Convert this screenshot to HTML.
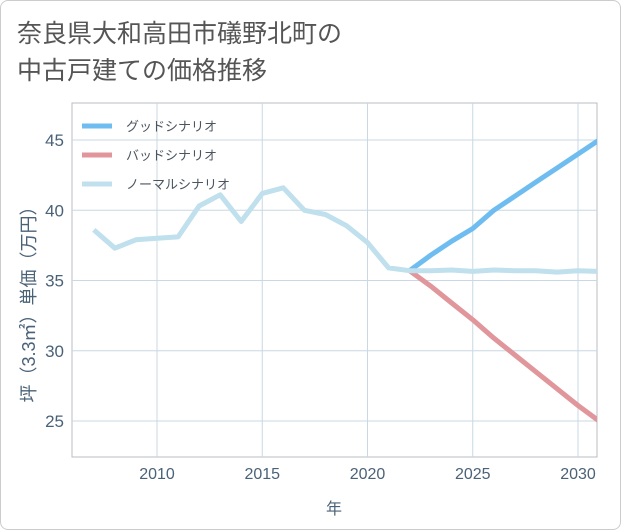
<!DOCTYPE html>
<html><head><meta charset="utf-8"><style>
body{margin:0;background:#fff;}
#wrap{position:relative;width:619px;height:528px;border:1px solid #ccc;border-radius:8px;background:#fff;font-family:"Liberation Sans","Noto Sans CJK JP",sans-serif;overflow:hidden}
</style></head><body>
<div id="wrap">
<svg width="621" height="530" id="svg" style="position:absolute;left:-1px;top:-1px">
<text x="17" y="42" font-size="25" fill="#555" font-family="Liberation Sans, Noto Sans CJK JP, sans-serif">奈良県大和高田市礒野北町の</text>
<text x="17" y="79" font-size="25" fill="#555" font-family="Liberation Sans, Noto Sans CJK JP, sans-serif">中古戸建ての価格推移</text>
<text transform="translate(35,300) rotate(-90)" text-anchor="middle" font-size="18" fill="#4a6278" font-family="Liberation Sans, Noto Sans CJK JP, sans-serif">坪（3.3㎡）単価（万円）</text>
<text x="334" y="514" text-anchor="middle" font-size="16" fill="#4a6278" font-family="Liberation Sans, Noto Sans CJK JP, sans-serif">年</text>
<g id="grid"></g><g id="lines"></g><g id="legend"></g>
</svg>
</div>
<script>
const years=[2007,2008,2009,2010,2011,2012,2013,2014,2015,2016,2017,2018,2019,2020,2021,2022,2023,2024,2025,2026,2027,2028,2029,2030,2031];
const normal=[38.6,37.3,37.9,38.0,38.1,40.3,41.1,39.2,41.2,41.6,40.0,39.7,38.9,37.7,35.9,35.7,35.7,35.75,35.65,35.75,35.7,35.7,35.6,35.7,35.65];
const goodYears=[2022,2023,2024,2025,2026,2027,2028,2029,2030,2031];
const good=[35.7,36.8,37.8,38.7,40.0,41.0,42.0,43.0,44.0,45.0];
const bad=[35.7,34.6,33.4,32.2,30.9,29.7,28.5,27.3,26.1,25.0];
const xTicks=[2010,2015,2020,2025,2030];
const yTicks=[25,30,35,40,45];
const L=72,R=597,T=103,B=457;
const xs=y=>157+(y-2010)*21.05;
const ys=v=>421+(25-v)*14.05;
const NS="http://www.w3.org/2000/svg";
function mk(t,a,p){const e=document.createElementNS(NS,t);for(const k in a)e.setAttribute(k,a[k]);p.appendChild(e);return e;}
const grid=document.getElementById('grid');
const frame=mk('rect',{x:L,y:T,width:R-L,height:B-T,fill:'none',stroke:'#b8bec4','stroke-width':1},grid);


xTicks.forEach(t=>{
 const l=mk('line',{x1:xs(t),x2:xs(t),y1:T,y2:B,stroke:'#c8d8e4'},grid);
 
 
 const tx=mk('text',{x:xs(t),y:B+22,'text-anchor':'middle','font-size':16,fill:'#4a6278'},grid);
 tx.textContent=t;
 
 
});
yTicks.forEach(t=>{
 const l=mk('line',{x1:L,x2:R,y1:ys(t),y2:ys(t),stroke:'#c8d8e4'},grid);
 
 
 const tx=mk('text',{x:L-8,y:ys(t)+6,'text-anchor':'end','font-size':17,fill:'#4a6278'},grid);
 tx.textContent=t;
 
 
});
const lines=document.getElementById('lines');
function path(xa,va,color,name){
 const d=va.map((v,i)=>(i?'L':'M')+xs(xa[i]).toFixed(1)+','+ys(v).toFixed(1)).join('');
 const p=mk('path',{d:d,fill:'none',stroke:color,'stroke-width':5,'stroke-linejoin':'round'},lines);
 
 
}
const clip=mk('clipPath',{id:'c'},document.getElementById('svg'));
mk('rect',{x:L,y:T,width:R-L,height:B-T},clip);
lines.setAttribute('clip-path','url(#c)');
path(goodYears,bad,'#e0969b','bad-scenario-line');
path(goodYears,good,'#6fbdf0','good-scenario-line');
path(years,normal,'#bfe0ec','normal-scenario-line');
const leg=document.getElementById('legend');
[['グッドシナリオ','#6fbdf0','good'],['バッドシナリオ','#e0969b','bad'],['ノーマルシナリオ','#bfe0ec','normal']].forEach((e,i)=>{
 const y=126+i*29;
 const g=mk('g',{},leg);
 
 
 mk('line',{x1:82,x2:112,y1:y,y2:y,stroke:e[1],'stroke-width':5},g);
 const t=mk('text',{x:126,y:y+5,'font-size':13,fill:'#4a5560'},g);
 t.textContent=e[0];
});
</script>
</body></html>
